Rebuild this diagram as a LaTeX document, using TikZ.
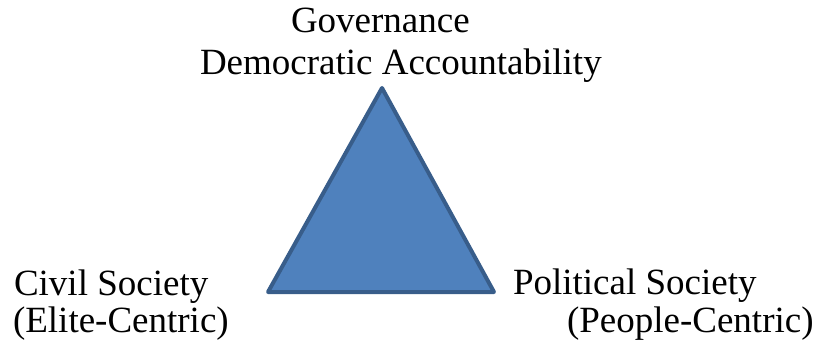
\documentclass[tikz,border=0pt]{standalone}
\usepackage{fontspec}
\setmainfont{Liberation Serif}
\definecolor{triFill}{HTML}{4F81BD}
\definecolor{triEdge}{HTML}{385D8A}
\begin{document}
\begin{tikzpicture}[x=1pt,y=-1pt,
  lbl/.style={inner sep=0pt,outer sep=0pt,font=\fontsize{37}{43}\selectfont,anchor=base west}]
\useasboundingbox (0,0) rectangle (820,345);
\coordinate (apex) at (382,88);
\coordinate (bl) at (268,292);
\coordinate (br) at (494,292);
\draw[triEdge,fill=triFill,line width=4pt,line join=round] (apex) -- (br) -- (bl) -- cycle;
\node[lbl] (gov) at (291,33) {Governance};
\node[lbl] (dem) at (200,75) {Democratic Accountability};
\node[lbl] (civ) at (14,295) {Civil Society};
\node[lbl] (eli) at (13,332) {(Elite-Centric)};
\node[lbl] (pol) at (513,294) {Political Society};
\node[lbl] (peo) at (567,332) {(People-Centric)};
\end{tikzpicture}
\end{document}
